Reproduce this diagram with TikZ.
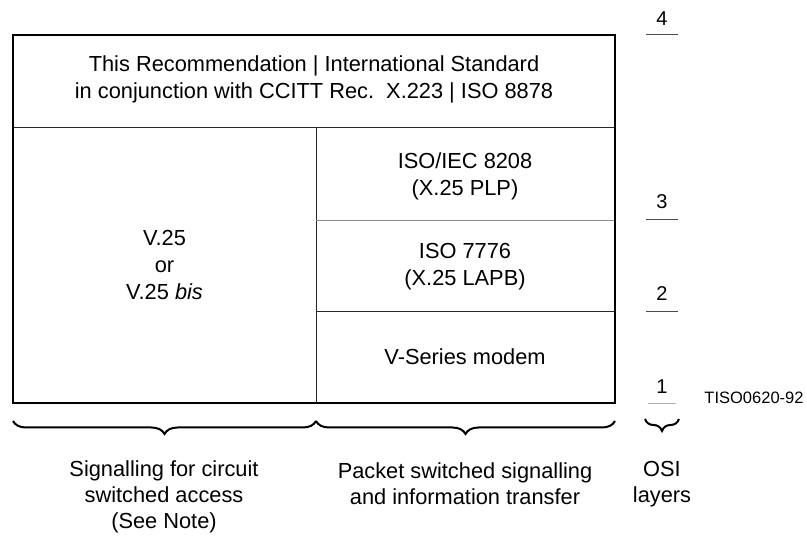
\documentclass[tikz,border=0pt]{standalone}
\usepackage{fontspec}
\setmainfont{Liberation Sans}
\usetikzlibrary{decorations.pathreplacing}
\begin{document}
\begin{tikzpicture}[x=1pt,y=-1pt,
  txt/.style={align=center,font=\fontsize{21.8}{27}\selectfont,inner sep=0pt},
  lbl/.style={align=center,font=\fontsize{21.8}{26}\selectfont,inner sep=0pt},
  num/.style={font=\fontsize{20}{22}\selectfont,inner sep=0pt},
  outer/.style={line width=1.6pt,black},
  inner/.style={line width=1pt,black!85},
  faint/.style={line width=0.8pt,black!45},
  tick/.style={line width=1pt,black!70},
  faintick/.style={line width=0.8pt,black!30},
  brc/.style={line width=2pt,decorate,decoration={brace,mirror,amplitude=13pt}}]
\useasboundingbox (0,0) rectangle (807,540);
\fill[white] (0,0) rectangle (807,540);
% frame corners
\coordinate (tl) at (13,35);
\coordinate (br) at (615,403);
\coordinate (ml) at (13,128);
\coordinate (mr) at (615,128);
\coordinate (dt) at (316,128);
\coordinate (db) at (316,403);
\coordinate (r3l) at (316,220);
\coordinate (r3r) at (615,220);
\coordinate (r2l) at (316,312);
\coordinate (r2r) at (615,312);
\draw[inner] (ml) -- (mr);
\draw[inner] (dt) -- (db);
\draw[faint] (r3l) -- (r3r);
\draw[inner] (r2l) -- (r2r);
\draw[outer] (tl) rectangle (br);
% texts in boxes
\node[txt] (top) at (314,79) {This Recommendation | International Standard\\in conjunction with CCITT Rec.\ \ X.223 | ISO 8878};
\node[txt] (v25) at (164.5,265) {V.25\\or\\V.25 \textit{bis}};
\node[txt] (plp) at (465,176) {ISO/IEC 8208\\(X.25 PLP)};
\node[txt] (lapb) at (465,267) {ISO 7776\\(X.25 LAPB)};
\node[txt] (modem) at (465,357) {V-Series modem};
% layer numbers
\node[num] (n4) at (662,18.5) {4};
\node[num] (n3) at (662,202) {3};
\node[num] (n2) at (662,294) {2};
\node[num] (n1) at (662,387) {1};
\coordinate (t4a) at (646,35); \coordinate (t4b) at (678,35);
\coordinate (t3a) at (646,220); \coordinate (t3b) at (678,220);
\coordinate (t2a) at (646,312); \coordinate (t2b) at (678,312);
\coordinate (t1a) at (648,403); \coordinate (t1b) at (676,403);
\draw[tick] (t4a) -- (t4b);
\draw[tick] (t3a) -- (t3b);
\draw[tick] (t2a) -- (t2b);
\draw[faintick] (t1a) -- (t1b);
\node[font=\fontsize{16.5}{18}\selectfont,inner sep=0pt] (tiso) at (754,398) {TISO0620-92};
% braces
\coordinate (b1a) at (13,421); \coordinate (b1b) at (316,421);
\coordinate (b2a) at (316,421); \coordinate (b2b) at (615,421);
\draw[brc] (b1a) -- (b1b);
\draw[brc] (b2a) -- (b2b);
\coordinate (b3a) at (645,419); \coordinate (b3b) at (679,419);
\draw[brc,decoration={amplitude=12pt}] (b3a) -- (b3b);
% bottom labels
\node[lbl] (l1) at (164,497) {Signalling for circuit\\switched access\\(See Note)};
\node[lbl] (l2) at (465,484) {Packet switched signalling\\and information transfer};
\node[lbl] (l3) at (662,484) {OSI\\layers};
\end{tikzpicture}
\end{document}
